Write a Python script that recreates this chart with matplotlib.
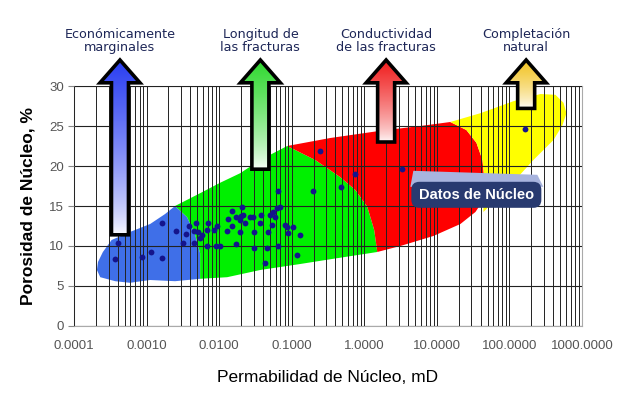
import numpy as np
import matplotlib
matplotlib.use("Agg")
import matplotlib.pyplot as plt
from matplotlib.patches import Polygon, FancyBboxPatch
from matplotlib.colors import LinearSegmentedColormap
from matplotlib.ticker import FixedLocator, LogLocator, NullFormatter

plt.rcParams['font.family'] = ['Liberation Sans', 'DejaVu Sans']

# core samples: permeability (mD) and porosity (%)
core_perm = [4.0e-4, 3.7e-4, 8.7e-4, 1.15e-3, 1.64e-3, 1.64e-3, 2.55e-3, 3.2e-3,
             3.5e-3, 3.9e-3, 4.5e-3, 4.8e-3, 5.1e-3, 5.8e-3, 6.8e-3, 7.0e-3,
             6.8e-3, 9.1e-3, 0.0103, 9.4e-3, 0.0129, 0.0133, 0.0151, 0.0171,
             0.0151, 0.0171, 0.0195, 0.0207, 0.0214, 0.0195, 0.0229, 0.0268,
             0.0294, 0.0304, 0.0304, 0.0368, 0.0459, 0.0430, 0.0505, 0.0474,
             0.0538, 0.0556, 0.0631, 0.0592, 0.0652, 0.0693, 0.0652, 0.0867,
             0.0895, 0.105, 0.131, 0.119, 0.198, 0.247, 0.482, 0.752, 3.34,
             166, 0.0045, 0.0055, 0.0085, 0.038, 0.080, 0.020]
core_poro = [10.4, 8.4, 8.6, 9.3, 8.5, 12.9, 11.9, 10.4,
             11.5, 12.5, 10.4, 12.9, 11.8, 11.4, 12.0, 12.9,
             10.0, 10.0, 10.0, 12.5, 11.9, 13.4, 14.4, 10.2,
             12.5, 13.6, 13.3, 14.9, 13.9, 11.8, 12.9, 13.6,
             13.6, 11.8, 9.8, 12.9, 9.8, 7.9, 13.9, 11.8,
             12.6, 14.3, 14.8, 13.6, 10.0, 14.9, 16.9, 12.4,
             11.6, 12.4, 11.4, 8.9, 16.9, 21.9, 17.4, 19.0, 19.6,
             24.6, 11.9, 11.0, 12.0, 13.9, 12.6, 13.8]

# zone outlines (permeability mD, porosity %)
blue_perm = [2.47e-3, 3.62e-3, 4.67e-3, 5.47e-3, 5.47e-3, 2.47e-3, 1.12e-3, 5.9e-4,
             3.7e-4, 2.3e-4, 2.07e-4, 2.14e-4, 2.5e-4, 3.3e-4, 5.9e-4, 1.12e-3, 1.8e-3]
blue_poro = [15.0, 13.6, 11.4, 9.1, 5.9, 5.6, 5.75, 5.4,
             5.6, 6.1, 7.0, 8.0, 9.25, 10.75, 11.75, 12.75, 14.0]

green_perm = [2.47e-3, 5.47e-3, 0.0103, 0.0195, 0.0368, 0.0867, 0.211, 0.467, 0.752,
              1.10, 1.37, 1.51, 0.373, 0.131, 0.0368, 0.0129, 5.47e-3, 5.47e-3,
              4.67e-3, 3.62e-3]
green_poro = [15.0, 16.6, 17.9, 19.1, 20.75, 22.5, 20.75, 18.6, 17.0,
              14.9, 12.0, 9.25, 8.4, 7.75, 7.0, 6.1, 5.9, 9.1,
              11.4, 13.6]

red_perm = [0.0867, 0.340, 1.66, 5.92, 15.3, 25.5, 35.1, 42.5, 45.2, 43.8, 34.0,
            21.1, 8.95, 3.14, 1.51, 1.37, 1.10, 0.752, 0.467, 0.211]
red_poro = [22.5, 23.5, 24.4, 25.0, 25.5, 24.5, 22.9, 20.75, 18.25, 15.75, 14.25,
            12.75, 11.25, 10.0, 9.25, 12.0, 14.9, 17.0, 18.6, 20.75]

yellow_perm = [15.3, 39.8, 113.5, 268, 431, 556, 611, 538, 405, 214, 113.5, 64.1,
               43.8, 43.8, 45.2, 42.5, 35.1, 25.5]
yellow_poro = [25.5, 26.6, 28.1, 29.0, 28.9, 27.9, 26.6, 25.1, 23.25, 20.75, 18.0, 15.75,
               14.25, 15.75, 18.25, 20.75, 22.9, 24.5]

zone_colors = ['#3f6fe8', '#00f000', '#ff0000', '#ffff00']

# arrows on top of each zone
zone_labels = ['Económicamente\nmarginales', 'Longitud de\nlas fracturas',
               'Conductividad\nde las fracturas', 'Completación\nnatural']
arrow_perm = [4.3e-4, 0.037, 2.0, 170]
arrow_base = [11.4, 19.6, 23.0, 27.2]
arrow_colors = ['#2b3ff2', '#2fd82f', '#f01e1e', '#f2c21e']

x_ticks = [1e-4, 1e-3, 1e-2, 1e-1, 1, 10, 100, 1000]
y_ticks = [0, 5, 10, 15, 20, 25, 30]

W, H = 640, 399
fig = plt.figure(figsize=(W / 100, H / 100), dpi=100)
ax = fig.add_axes([74 / W, 73 / H, 508 / W, 240 / H])

for xs, ys, c in zip([blue_perm, green_perm, red_perm, yellow_perm],
                     [blue_poro, green_poro, red_poro, yellow_poro], zone_colors):
    ax.fill(xs, ys, color=c, lw=0, zorder=1)

ax.plot(core_perm, core_poro, 'o', color='#14148c', ms=4.2, mew=0, zorder=3)

ax.set_xscale('log')
ax.set_xlim(1e-4, 1e3)
ax.set_ylim(0, 30)
ax.xaxis.set_major_locator(FixedLocator(x_ticks))
ax.xaxis.set_minor_locator(LogLocator(base=10, subs=np.arange(2, 10)))
ax.xaxis.set_minor_formatter(NullFormatter())
ax.set_xticklabels(['%.4f' % v for v in x_ticks])
ax.set_yticks(y_ticks)
ax.set_axisbelow(False)
ax.grid(True, which='both', axis='x', color='#222222', lw=0.7)
ax.grid(True, which='major', axis='y', color='#222222', lw=0.8)
ax.tick_params(axis='x', which='both', length=0, pad=10, labelsize=9.5, labelcolor='#555555')
ax.tick_params(axis='y', length=4, color='#888888', pad=3, labelsize=9.5, labelcolor='#555555')
for side in ['left', 'bottom', 'top', 'right']:
    ax.spines[side].set_color('#aaaaaa')
    ax.spines[side].set_linewidth(0.8)

ax.set_xlabel('Permabilidad de Núcleo, mD', fontsize=12.5, labelpad=13)
ax.set_ylabel('Porosidad de Núcleo, %', fontsize=12.5, fontweight='bold', labelpad=10)

# overlay in pixel units for arrows and the label box
ov = fig.add_axes([0, 0, 1, 1], zorder=5)
ov.set_xlim(0, W)
ov.set_ylim(0, H)
ov.axis('off')
ov.patch.set_alpha(0)

tip_poro, head_poro = 33.25, 30.4
for xp, base, col, lab in zip(arrow_perm, arrow_base, arrow_colors, zone_labels):
    cx, yb = ax.transData.transform((xp, base))
    _, yt = ax.transData.transform((xp, tip_poro))
    _, yh = ax.transData.transform((xp, head_poro))
    sw, hw = 8.5, 20
    pts = [(cx - sw, yb), (cx - sw, yh), (cx - hw, yh), (cx, yt),
           (cx + hw, yh), (cx + sw, yh), (cx + sw, yb)]
    clip = Polygon(pts, closed=True, fc='none', ec='none', transform=ov.transData)
    ov.add_patch(clip)
    cmap = LinearSegmentedColormap.from_list('g', ['white', col])
    grad = np.linspace(0, 1, 200).reshape(-1, 1) ** 0.7
    im = ov.imshow(grad, cmap=cmap, origin='lower', aspect='auto',
                   extent=[cx - hw, cx + hw, yb, yt], zorder=6)
    im.set_clip_path(clip)
    ov.add_patch(Polygon(pts, closed=True, fc='none', ec='black', lw=2.6,
                         joinstyle='miter', zorder=7, transform=ov.transData))
    ax.text(xp, 35.65, lab, ha='center', va='center', fontsize=9.2, color='#1d2657',
            family=['DejaVu Sans'], linespacing=1.05, clip_on=False)
ov.set_xlim(0, W)
ov.set_ylim(0, H)

# "Datos de Núcleo" callout
bx, by = ax.transData.transform((35, 16.4))
band = [(bx - 63, by + 24), (bx + 61, by + 20), (bx + 67, by + 8), (bx - 66, by + 8)]
ov.add_patch(Polygon(band, closed=True, fc='#a8b4de', ec='none', zorder=8))
ov.add_patch(FancyBboxPatch((bx - 62, by - 10), 124, 20,
                            boxstyle='round,pad=3,rounding_size=8',
                            fc='#283a70', ec='none', zorder=9))
ov.text(bx, by, 'Datos de Núcleo', color='white', fontsize=10.5, fontweight='bold',
        ha='center', va='center', zorder=10)

fig.savefig('out.png', dpi=100)
